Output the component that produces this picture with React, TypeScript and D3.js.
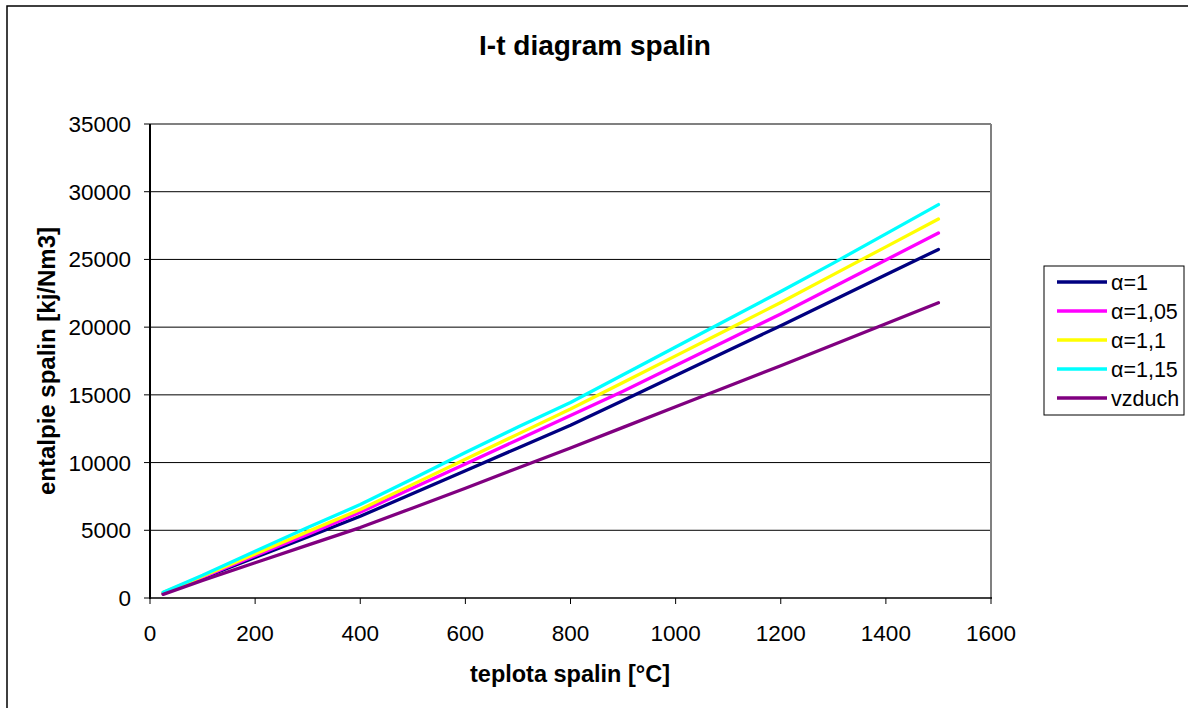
import React from "react";
import * as d3 from "d3";

const temps = [25, 100, 200, 300, 400, 500, 600, 700, 800, 900, 1000, 1100, 1200, 1300, 1400, 1500];
const alpha1 = [330, 1480, 3000, 4500, 6030, 7720, 9400, 11080, 12760, 14590, 16430, 18270, 20110, 21980, 23870, 25740];
const alpha105 = [370, 1540, 3120, 4700, 6330, 8120, 9900, 11690, 13470, 15270, 17170, 19070, 20970, 22960, 24960, 26950];
const alpha11 = [400, 1600, 3250, 4900, 6530, 8390, 10250, 12100, 13950, 15910, 17880, 19850, 21820, 23880, 25930, 27980];
const alpha115 = [430, 1680, 3450, 5200, 6900, 8800, 10750, 12620, 14430, 16480, 18530, 20580, 22630, 24730, 26890, 29050];
const vzduch = [270, 1300, 2600, 3900, 5200, 6650, 8100, 9600, 11080, 12600, 14120, 15640, 17150, 18700, 20250, 21800];

const seriesNames = ["α=1", "α=1,05", "α=1,1", "α=1,15", "vzduch"];
const seriesColors = ["#000080", "#FF00FF", "#FFFF00", "#00FFFF", "#800080"];
const seriesValues = [alpha1, alpha105, alpha11, alpha115, vzduch];

const xTicks = [0, 200, 400, 600, 800, 1000, 1200, 1400, 1600];
const yTicks = [0, 5000, 10000, 15000, 20000, 25000, 30000, 35000];

export default function App() {
  const W = 1188, H = 708;
  const left = 150, right = 991, top = 124, bottom = 598;
  const x = d3.scaleLinear().domain([0, 1600]).range([left, right]);
  const y = d3.scaleLinear().domain([0, 35000]).range([bottom, top]);
  const line = d3.line<number>().x((_, i) => x(temps[i])).y((v) => y(v));
  const font = "'Liberation Sans', Arial, sans-serif";

  return (
    <svg width={W} height={H} style={{ position: "absolute", left: 0, top: 0 }} fontFamily={font}>
      <rect x={0} y={0} width={W} height={H} fill="#fff" />
      <rect x={7} y={6} width={1190} height={720} fill="none" stroke="#000" strokeWidth={1.5} />
      <text x={595} y={55} textAnchor="middle" fontSize={28} fontWeight="bold">I-t diagram spalin</text>
      {yTicks.slice(1, -1).map((t) => (
        <line key={"g" + t} x1={left} x2={right} y1={y(t)} y2={y(t)} stroke="#000" strokeWidth={1} />
      ))}
      <line x1={left} x2={right} y1={top} y2={top} stroke="#808080" strokeWidth={2} />
      <line x1={right} x2={right} y1={top} y2={bottom} stroke="#808080" strokeWidth={2} />
      <line x1={left} x2={left} y1={top} y2={bottom + 1} stroke="#000" strokeWidth={2} />
      <line x1={left - 1} x2={right + 1} y1={bottom} y2={bottom} stroke="#000" strokeWidth={1.5} />
      {yTicks.map((t) => (
        <g key={"y" + t}>
          <line x1={left - 6} x2={left} y1={y(t)} y2={y(t)} stroke="#000" strokeWidth={1} />
          <text x={131} y={y(t) + 8} textAnchor="end" fontSize={22.5}>{t}</text>
        </g>
      ))}
      {xTicks.map((t) => (
        <g key={"x" + t}>
          <line x1={x(t)} x2={x(t)} y1={bottom} y2={bottom + 6} stroke="#000" strokeWidth={1} />
          <text x={x(t)} y={641} textAnchor="middle" fontSize={22.5}>{t}</text>
        </g>
      ))}
      <text x={570} y={682} textAnchor="middle" fontSize={23.5} fontWeight="bold">teplota spalin [°C]</text>
      <text transform="translate(55,361) rotate(-90)" textAnchor="middle" fontSize={24} fontWeight="bold">entalpie spalin [kj/Nm3]</text>
      {seriesValues.map((vals, i) => (
        <path key={"s" + i} d={line(vals) || ""} fill="none" stroke={seriesColors[i]} strokeWidth={3.3} strokeLinejoin="round" strokeLinecap="round" />
      ))}
      <rect x={1044} y={266} width={140} height={149} fill="#fff" stroke="#000" strokeWidth={1} />
      {seriesNames.map((n, i) => (
        <g key={"l" + i}>
          <line x1={1057} x2={1107} y1={282 + i * 29} y2={282 + i * 29} stroke={seriesColors[i]} strokeWidth={3.3} />
          <text x={1111} y={282 + i * 29 + 8} fontSize={21.5}>{n}</text>
        </g>
      ))}
    </svg>
  );
}
